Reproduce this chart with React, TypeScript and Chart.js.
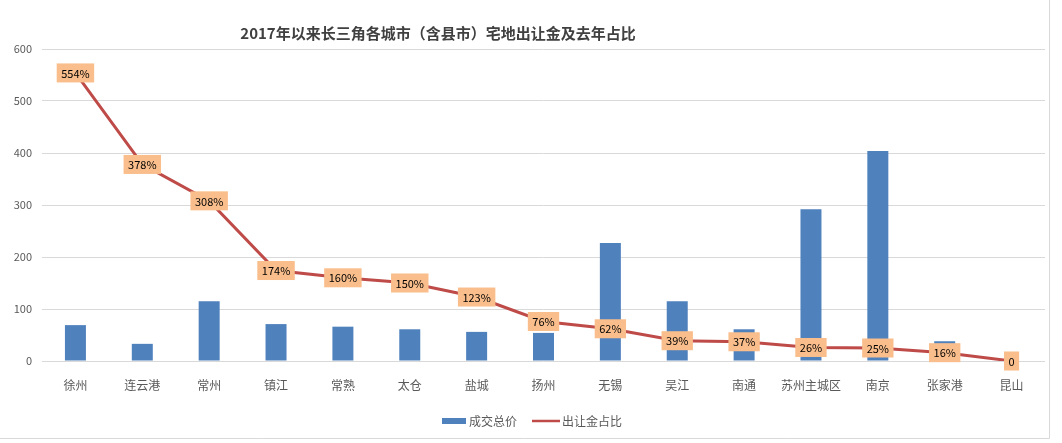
import React, { useEffect, useRef } from "react";
import { Chart, registerables } from "chart.js";

Chart.register(...registerables);

const TITLE = "2017年以来长三角各城市（含县市）宅地出让金及去年占比";
const categories = ["徐州", "连云港", "常州", "镇江", "常熟", "太仓", "盐城", "扬州", "无锡", "吴江", "南通", "苏州主城区", "南京", "张家港", "昆山"];
const totalValues = [69, 33, 115, 71, 66, 61, 56, 54, 227, 115, 61, 292, 404, 38, 0];
const ratioValues = [554, 378, 308, 174, 160, 150, 123, 76, 62, 39, 37, 26, 25, 16, 0];
const ratioLabels = ["554%", "378%", "308%", "174%", "160%", "150%", "123%", "76%", "62%", "39%", "37%", "26%", "25%", "16%", "0"];
const yTicks = [0, 100, 200, 300, 400, 500, 600];
const seriesNames = ["成交总价", "出让金占比"];

const FONT = "'Noto Sans CJK SC', 'Noto Sans', sans-serif";
const BAR_COLOR = "#4F81BD";
const LINE_COLOR = "#BE4B48";
const LABEL_BG = "#F9BE8C";
const TEXT_GRAY = "#595959";

const decorPlugin = {
  id: "decor",
  beforeDraw(chart: any) {
    const ctx = chart.ctx;
    ctx.save();
    ctx.fillStyle = "#FFFFFF";
    ctx.fillRect(0, 0, chart.width, chart.height);
    ctx.strokeStyle = "#D9D9D9";
    ctx.lineWidth = 1;
    ctx.beginPath();
    ctx.moveTo(0, 438.5);
    ctx.lineTo(1049.5, 438.5);
    ctx.lineTo(1049.5, 0);
    ctx.stroke();
    ctx.restore();
  },
  afterDatasetsDraw(chart: any) {
    const ctx = chart.ctx;
    ctx.save();
    // title
    ctx.font = `bold 15px ${FONT}`;
    ctx.fillStyle = "#404040";
    ctx.textAlign = "center";
    ctx.textBaseline = "middle";
    ctx.fillText(TITLE, 438, 33);

    // data labels on line
    const meta = chart.getDatasetMeta(0);
    ctx.font = `11px ${FONT}`;
    meta.data.forEach((pt: any, i: number) => {
      const txt = ratioLabels[i];
      const w = ctx.measureText(txt).width + 9;
      const h = 19;
      ctx.fillStyle = LABEL_BG;
      ctx.fillRect(pt.x - w / 2, pt.y - h / 2, w, h);
      ctx.fillStyle = "#000000";
      ctx.textAlign = "center";
      ctx.textBaseline = "middle";
      ctx.fillText(txt, pt.x, pt.y + 0.5);
    });

    // legend
    ctx.font = `12px ${FONT}`;
    ctx.textAlign = "left";
    ctx.textBaseline = "middle";
    ctx.fillStyle = BAR_COLOR;
    ctx.fillRect(442, 418, 24, 6);
    ctx.fillStyle = TEXT_GRAY;
    ctx.fillText(seriesNames[0], 469, 421);
    ctx.strokeStyle = LINE_COLOR;
    ctx.lineWidth = 2.5;
    ctx.beginPath();
    ctx.moveTo(532, 421);
    ctx.lineTo(560, 421);
    ctx.stroke();
    ctx.fillStyle = TEXT_GRAY;
    ctx.fillText(seriesNames[1], 562, 421);
    ctx.restore();
  },
};

export default function App() {
  const ref = useRef<HTMLCanvasElement>(null);
  useEffect(() => {
    if (!ref.current) return;
    const chart = new Chart(ref.current, {
      type: "bar",
      data: {
        labels: categories,
        datasets: [
          {
            type: "line",
            label: seriesNames[1],
            data: ratioValues,
            borderColor: LINE_COLOR,
            backgroundColor: LINE_COLOR,
            borderWidth: 3,
            pointRadius: 0,
            tension: 0,
          } as any,
          {
            type: "bar",
            label: seriesNames[0],
            data: totalValues,
            backgroundColor: BAR_COLOR,
            categoryPercentage: 1,
            barPercentage: 0.314,
          } as any,
        ],
      },
      options: {
        responsive: false,
        animation: false,
        layout: { padding: { left: 0, right: 17, top: 49, bottom: 0 } },
        plugins: {
          legend: { display: false },
          title: { display: false },
          tooltip: { enabled: false },
        },
        scales: {
          x: {
            grid: { display: false, drawTicks: false },
            border: { display: false },
            ticks: { color: TEXT_GRAY, font: { family: FONT, size: 12 }, padding: 17, maxRotation: 0, autoSkip: false },
            afterFit: (s: any) => { s.height = 82; },
          },
          y: {
            min: 0,
            max: 600,
            afterBuildTicks: (s: any) => { s.ticks = yTicks.map((v) => ({ value: v })); },
            grid: { color: "#D9D9D9", drawTicks: false, lineWidth: 1 },
            border: { display: false },
            ticks: { color: TEXT_GRAY, font: { family: FONT, size: 11 }, padding: 10 },
            afterFit: (s: any) => { s.width = 42; },
          },
        },
      } as any,
      plugins: [decorPlugin],
    });
    return () => chart.destroy();
  }, []);
  return (
    <div style={{ position: "absolute", left: 0, top: 0, width: 1062, height: 443, background: "#fff" }}>
      <canvas ref={ref} width={1062} height={443} style={{ display: "block", width: 1062, height: 443 }} />
    </div>
  );
}
